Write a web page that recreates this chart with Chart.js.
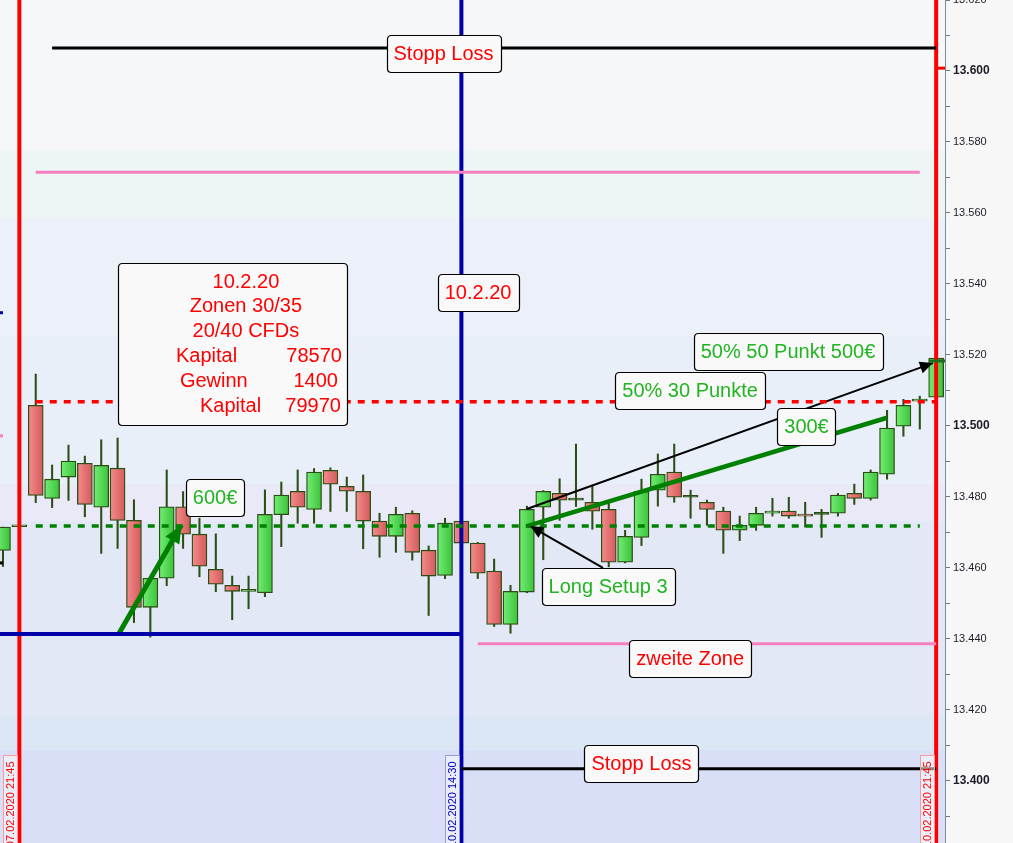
<!DOCTYPE html>
<html><head><meta charset="utf-8">
<script src="https://cdn.jsdelivr.net/npm/chart.js@4.4.0/dist/chart.umd.min.js"></script>
<style>html,body{margin:0;padding:0;background:#f7f7f7;overflow:hidden}canvas{display:block}</style>
</head><body>
<canvas id="c" width="1013" height="843"></canvas>
<script>
// ---------- data ----------
const opens  = [13.4649,13.4716,13.5058,13.4796,13.4856,13.4895,13.4771,13.4881,13.4734,13.4489,13.4571,13.4772,13.4695,13.4596,13.4551,13.4534,13.4530,13.4750,13.4816,13.4765,13.4875,13.4830,13.4816,13.4732,13.4689,13.4754,13.4650,13.4579,13.4732,13.4670,13.4591,13.4441,13.4532,13.4771,13.4810,13.4791,13.4785,13.4765,13.4616,13.4686,13.4819,13.4870,13.4799,13.4785,13.4760,13.4706,13.4720,13.4754,13.4760,13.4751,13.4751,13.4754,13.4810,13.4796,13.4864,13.4999,13.5070,13.5081];
const highs  = [13.4715,13.4721,13.5146,13.4890,13.4946,13.4915,13.4961,13.4966,13.4792,13.4571,13.4876,13.4815,13.4740,13.4696,13.4577,13.4577,13.4820,13.4842,13.4876,13.4880,13.4882,13.4856,13.4862,13.4754,13.4771,13.4761,13.4662,13.4740,13.4735,13.4672,13.4625,13.4551,13.4774,13.4818,13.4851,13.4949,13.4830,13.4783,13.4706,13.4850,13.4921,13.4949,13.4819,13.4791,13.4771,13.4746,13.4771,13.4796,13.4799,13.4785,13.4765,13.4810,13.4836,13.4876,13.5044,13.5075,13.5084,13.5192];
const lows   = [13.4604,13.4715,13.4784,13.4770,13.4790,13.4744,13.4641,13.4655,13.4446,13.4405,13.4550,13.4655,13.4575,13.4533,13.4454,13.4485,13.4519,13.4660,13.4726,13.4726,13.4759,13.4759,13.4654,13.4630,13.4644,13.4622,13.4466,13.4570,13.4668,13.4570,13.4435,13.4416,13.4530,13.4623,13.4734,13.4773,13.4709,13.4603,13.4614,13.4663,13.4774,13.4785,13.4740,13.4720,13.4641,13.4677,13.4706,13.4746,13.4740,13.4715,13.4686,13.4746,13.4779,13.4791,13.4850,13.4971,13.4991,13.5081];
const closes = [13.4715,13.4720,13.4804,13.4850,13.4901,13.4779,13.4889,13.4734,13.4489,13.4571,13.4772,13.4695,13.4605,13.4554,13.4534,13.4540,13.4751,13.4805,13.4771,13.4870,13.4836,13.4816,13.4732,13.4689,13.4751,13.4644,13.4577,13.4726,13.4670,13.4585,13.4441,13.4534,13.4765,13.4816,13.4791,13.4791,13.4760,13.4616,13.4689,13.4816,13.4864,13.4799,13.4799,13.4765,13.4706,13.4720,13.4754,13.4760,13.4746,13.4746,13.4751,13.4805,13.4796,13.4870,13.4994,13.5058,13.5075,13.5191];

const yTickValues  = [13.39,13.40,13.41,13.42,13.43,13.44,13.45,13.46,13.47,13.48,13.49,13.50,13.51,13.52,13.53,13.54,13.55,13.56,13.57,13.58,13.59,13.60,13.61,13.62];
const yLabelValues = [13.40,13.42,13.44,13.46,13.48,13.50,13.52,13.54,13.56,13.58,13.60,13.62];
const yBoldValues  = [13.40,13.50,13.60];

// horizontal levels (price, from-index, to-index)
const levelPrice = [13.6065,13.5715,13.5068,13.4718,13.4414,13.4386,13.4034,13.5319,13.4972,13.4614,13.5183,13.6008];
const levelFrom  = [3,2,2,2,-0.3,29,28,-0.3,-0.3,-0.3,56.55,57.1];
const levelTo    = [57,56,57,56,28,57,57,0,0,0,57.6,57.6];

// vertical time markers
const markerIndex  = [1,28,57];
const markerLabels = ['07.02.2020 21:45','10.02.2020 14:30','10.02.2020 21:45'];

// arrows / trend lines
const arrowX0 = [7.03,32.0,32.0,36.65];
const arrowY0 = [13.4411,13.4718,13.4766,13.4600];
const arrowX1 = [10.9,54.0,56.8,32.2];
const arrowY1 = [13.4721,13.5023,13.5177,13.4718];

// text notes
const noteTexts = ['Stopp Loss','10.2.20','50% 50 Punkt 500€','50% 30 Punkte','300€','600€','Long Setup 3','zweite Zone','Stopp Loss'];
const noteX     = [26.91,29.02,47.95,41.97,49.08,12.95,36.96,41.97,39.0];
const noteY     = [13.6049,13.5376,13.5210,13.5100,13.4999,13.4799,13.4547,13.4344,13.4048];

// info box
const infoLabels = ['10.2.20','Zonen 30/35','20/40 CFDs','Kapital','Gewinn','Kapital'];
const infoValues = ['','','','78570','1400','79970'];
const infoBoxX = [7.02,21.01];
const infoBoxY = [13.5459,13.5003];

// background zones (price bounds)
const zoneTop    = [13.62,13.5777,13.5586,13.5254,13.4837,13.4732,13.4186,13.4087];
const zoneBottom = [13.5777,13.5586,13.5254,13.4837,13.4732,13.4186,13.4087,13.3825];

const xMin = -0.183, xMax = 57.54, yMin = 13.3825, yMax = 13.62;

// ---------- styles ----------
const FONT = "'Liberation Sans', Arial, sans-serif";
const zoneColors = ['#f5f7f9','#eef5f5','#ecf1f9','#e9eff9','#e9e9f7','#e2e8f6','#dce7f6','#d8dff7'];
const levelLook = [
  {c:'#000000',w:3},{c:'#f77fbf',w:3},{c:'#ff0000',w:3.5,d:[7,7]},{c:'#008000',w:3.5,d:[7,7]},
  {c:'#0000a8',w:4},{c:'#f77fbf',w:3},{c:'#000000',w:3},
  {c:'#0000a8',w:3},{c:'#f77fbf',w:3},{c:'#000000',w:3},{c:'#1d6e1d',w:3},{c:'#ff0000',w:3}
];
const markerLook = [{c:'#ff0000',t:'#ff0000',b:'#ff9a9a'},{c:'#0000a8',t:'#0000c0',b:'#9a9ad8'},{c:'#ff0000',t:'#ff0000',b:'#ff9a9a'}];
const arrowLook = [{c:'#008000',w:5,head:[18,8]},{c:'#008000',w:4.5,head:null},{c:'#000000',w:2,head:[13,6]},{c:'#000000',w:2,head:[13,6]}];
const noteColors = ['#ff0000','#ff0000','#22b422','#22b422','#22b422','#22b422','#22b422','#ff0000','#ff0000'];

const idx = opens.map((_, i) => i);
const datasets = [];

// lines on top (order 0)
levelPrice.forEach((p, k) => {
  const L = levelLook[k];
  datasets.push({type:'line', order:0, data:[{x:levelFrom[k],y:p},{x:levelTo[k],y:p}],
    borderColor:L.c, borderWidth:L.w, borderDash:L.d||[], pointRadius:0, fill:false, borderCapStyle:'butt'});
});
markerIndex.forEach((m, k) => {
  datasets.push({type:'line', order:0, data:[{x:m,y:yMin},{x:m,y:yMax}],
    borderColor:markerLook[k].c, borderWidth:4, pointRadius:0, fill:false, clip:false});
});
arrowX0.forEach((_, k) => {
  const A = arrowLook[k];
  datasets.push({type:'line', order:0, arrowHead:A.head, data:[{x:arrowX0[k],y:arrowY0[k]},{x:arrowX1[k],y:arrowY1[k]}],
    borderColor:A.c, borderWidth:A.w, pointRadius:0, fill:false, borderCapStyle:'butt'});
});

function bodyColor(ctx){
  const i = ctx.dataIndex;
  if (i === undefined) return '#888';
  const o = opens[i], c = closes[i];
  if (o === c) return '#2c5a18';
  const solid = c > o ? '#55d855' : '#e67070';
  const xs = ctx.chart.scales && ctx.chart.scales.x;
  if (!xs) return solid;
  const px = xs.getPixelForValue(i);
  if (!isFinite(px)) return solid;
  const g = ctx.chart.ctx.createLinearGradient(px - 7, 0, px + 7, 0);
  if (c > o) { g.addColorStop(0,'#72ec72'); g.addColorStop(1,'#3cc43c'); }
  else { g.addColorStop(0,'#f48a8a'); g.addColorStop(1,'#d45c5c'); }
  return g;
}
datasets.push({type:'bar', order:11, grouped:false, data:idx.map(i=>({x:i,y:[lows[i],highs[i]]})),
  backgroundColor:'#2c4e14', borderWidth:0, barThickness:1.4});
datasets.push({type:'bar', order:10, grouped:false, data:idx.map(i=>({x:i,y:[opens[i],closes[i]]})),
  backgroundColor:bodyColor, borderColor:'#2c4e14', borderWidth:1.3, borderSkipped:false, barThickness:15, minBarLength:2});

function rrect(ctx, x, y, w, h, r){
  ctx.beginPath();
  ctx.moveTo(x+r,y); ctx.lineTo(x+w-r,y); ctx.quadraticCurveTo(x+w,y,x+w,y+r);
  ctx.lineTo(x+w,y+h-r); ctx.quadraticCurveTo(x+w,y+h,x+w-r,y+h);
  ctx.lineTo(x+r,y+h); ctx.quadraticCurveTo(x,y+h,x,y+h-r);
  ctx.lineTo(x,y+r); ctx.quadraticCurveTo(x,y,x+r,y); ctx.closePath();
}

const overlay = {
  id:'overlay',
  beforeDraw(chart){
    const {ctx, chartArea:a, scales:{y}} = chart;
    ctx.save();
    ctx.fillStyle = '#f7f7f7'; ctx.fillRect(0,0,chart.width,chart.height);
    zoneTop.forEach((t,k)=>{
      const y0 = y.getPixelForValue(t), y1 = y.getPixelForValue(zoneBottom[k]);
      ctx.fillStyle = zoneColors[k]; ctx.fillRect(a.left, y0, a.right-a.left, y1-y0);
    });
    ctx.restore();
  },
  afterDatasetsDraw(chart){
    const {ctx, chartArea:a, scales:{x, y}} = chart;
    ctx.save();
    // arrowheads
    chart.data.datasets.forEach((ds, di) => {
      if (!ds.arrowHead) return;
      const pts = chart.getDatasetMeta(di).data;
      const p0 = pts[0], p1 = pts[pts.length-1];
      const ang = Math.atan2(p1.y-p0.y, p1.x-p0.x);
      const [L, W] = ds.arrowHead;
      const bx = p1.x - L*Math.cos(ang), by = p1.y - L*Math.sin(ang);
      ctx.fillStyle = ds.borderColor;
      ctx.beginPath();
      ctx.moveTo(p1.x, p1.y);
      ctx.lineTo(bx + W*Math.sin(ang), by - W*Math.cos(ang));
      ctx.lineTo(bx - W*Math.sin(ang), by + W*Math.cos(ang));
      ctx.closePath(); ctx.fill();
    });
    // notes
    ctx.font = '20px ' + FONT;
    ctx.textBaseline = 'middle';
    noteTexts.forEach((t,k)=>{
      const cx = x.getPixelForValue(noteX[k]), cy = y.getPixelForValue(noteY[k]);
      const w = ctx.measureText(t).width + 14, h = 37;
      rrect(ctx, Math.round(cx-w/2)+0.5, Math.round(cy-h/2)+0.5, Math.round(w), h, 4);
      ctx.fillStyle = '#f9f9f9'; ctx.fill();
      ctx.strokeStyle = '#000'; ctx.lineWidth = 1.2; ctx.stroke();
      ctx.fillStyle = noteColors[k]; ctx.textAlign = 'center';
      ctx.fillText(t, cx, cy+1);
    });
    // info box
    const bx0 = x.getPixelForValue(infoBoxX[0]), bx1 = x.getPixelForValue(infoBoxX[1]);
    const by0 = y.getPixelForValue(infoBoxY[0]), by1 = y.getPixelForValue(infoBoxY[1]);
    rrect(ctx, Math.round(bx0)+0.5, Math.round(by0)+0.5, Math.round(bx1-bx0), Math.round(by1-by0), 4);
    ctx.fillStyle = '#f9f9f9'; ctx.fill();
    ctx.strokeStyle = '#000'; ctx.lineWidth = 1.2; ctx.stroke();
    ctx.fillStyle = '#ff0000';
    const rowY = [19,43,68,93,118,143], labLeft = [0,0,0,58,62,82], valRight = [0,0,0,224,220,223];
    infoLabels.forEach((t,k)=>{
      if (!infoValues[k]) { ctx.textAlign='center'; ctx.fillText(t, bx0+128, by0+rowY[k]); }
      else {
        ctx.textAlign='left'; ctx.fillText(t, bx0+labLeft[k], by0+rowY[k]);
        ctx.textAlign='right'; ctx.fillText(infoValues[k], bx0+valRight[k], by0+rowY[k]);
      }
    });
    // time labels
    ctx.font = '11px ' + FONT;
    markerIndex.forEach((m,k)=>{
      const lx = x.getPixelForValue(m);
      const left = Math.round(lx - 16) + 0.5, top = 755.5;
      ctx.fillStyle = 'rgba(250,250,252,0.55)';
      ctx.fillRect(left, top, 14, a.bottom - top + 2);
      ctx.strokeStyle = markerLook[k].b; ctx.lineWidth = 1;
      ctx.strokeRect(left, top, 14, a.bottom - top + 2);
      ctx.save();
      ctx.translate(left + 7.5, top + 6);
      ctx.rotate(-Math.PI/2);
      ctx.textAlign = 'right'; ctx.textBaseline = 'middle';
      ctx.fillStyle = markerLook[k].t;
      ctx.fillText(markerLabels[k], 0, 0);
      ctx.restore();
    });
    ctx.restore();
  }
};

const isIn = (arr, v) => arr.some(a => Math.abs(a - v) < 1e-6);

const chart = new Chart(document.getElementById('c'), {
  type:'bar',
  data:{datasets},
  plugins:[overlay],
  options:{
    responsive:false, animation:false, events:[], devicePixelRatio:1,
    layout:{padding:0, autoPadding:false},
    plugins:{legend:{display:false}, tooltip:{enabled:false}},
    scales:{
      x:{type:'linear', display:false, min:xMin, max:xMax, offset:false},
      y:{type:'linear', position:'right', min:yMin, max:yMax,
        afterBuildTicks:s=>{ s.ticks = yTickValues.map(v=>({value:v})); },
        afterFit:s=>{ s.width = 68; s.paddingTop = 0; s.paddingBottom = 0; },
        border:{display:true, color:'#7d8b99', width:1},
        grid:{drawOnChartArea:false, drawTicks:true, tickLength:5, color:'#6b7785'},
        ticks:{padding:3, color:'#1c1c28', autoSkip:false,
          font:c=> (c.tick && isIn(yBoldValues, c.tick.value)) ? {family:FONT, size:12, weight:'bold'} : {family:FONT, size:11},
          callback:v=> isIn(yLabelValues, v) ? v.toFixed(3) : ''}
      }
    }
  }
});
chart.update('none');
</script>
</body></html>
